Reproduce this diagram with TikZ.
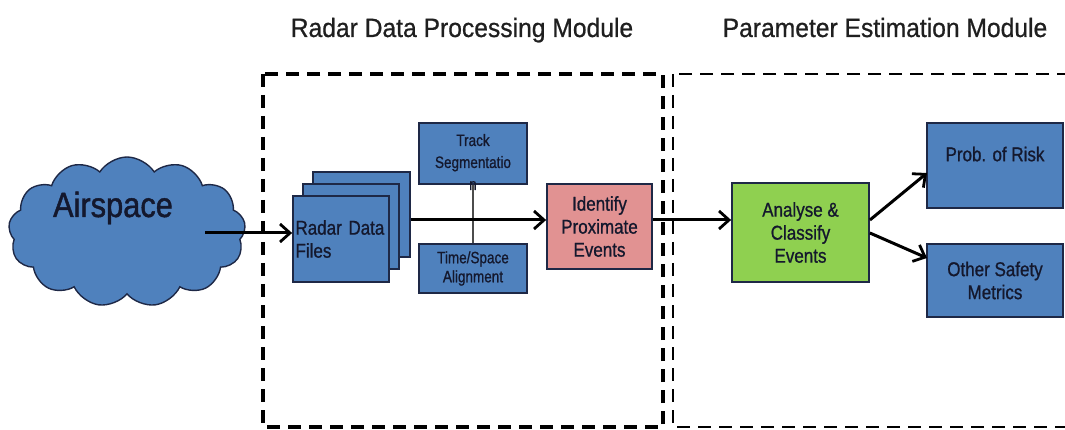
\documentclass[tikz,border=0pt]{standalone}
\usepackage{fontspec}
\setmainfont{Liberation Sans}
\newfontfamily\midfont[FakeStretch=0.85,FakeBold=0.9]{Liberation Sans}
\newfontfamily\smallfont[FakeStretch=0.82,FakeBold=0.8]{Liberation Sans}
\newfontfamily\bigfont[FakeStretch=0.88,FakeBold=1.2]{Liberation Sans}
\newfontfamily\titlefont[FakeStretch=0.93,FakeBold=0.7]{Liberation Sans}
\usetikzlibrary{shapes.symbols,arrows.meta}
\definecolor{boxblue}{RGB}{79,129,189}
\definecolor{boxedge}{RGB}{30,40,70}
\definecolor{boxpink}{RGB}{225,146,146}
\definecolor{boxgreen}{RGB}{143,208,80}
\definecolor{txt}{RGB}{20,24,45}
\tikzset{
  bx/.style={draw=boxedge, line width=1.8pt, fill=boxblue, inner sep=0pt, text=txt, align=center},
  lbl/.style={text=txt, align=center, inner sep=0pt},
  mid/.style={font=\midfont\fontsize{20}{23}\selectfont},
  small/.style={font=\smallfont\fontsize{16.5}{19}\selectfont},
  arr/.style={line width=3pt, -{Straight Barb[length=10pt,width=18pt,line width=2.8pt]}},
  modbox/.style={line width=3.4pt, dash pattern=on 13pt off 8pt},
  title/.style={font=\titlefont\fontsize{26.5}{30}\selectfont, text=black!88, anchor=base, inner sep=0pt}
}
\begin{document}
\begin{tikzpicture}[x=1pt,y=-1pt]
\useasboundingbox (0,0) rectangle (1065,430);

% titles
\node[title] (t1) at (462,37) {Radar Data Processing Module};
\node[title] (t2) at (885,37) {Parameter Estimation Module};

% module boxes
\draw[modbox] (263,74) rectangle (663,427);
\draw[modbox, line width=2.8pt] (673,74) rectangle (1075,427);

% cloud
\node[cloud, cloud puffs=13, cloud puff arc=115, aspect=1.6, draw=boxedge, line width=1.4pt,
      fill=boxblue, minimum width=237pt, minimum height=150pt, inner sep=0pt] (cloud) at (127,232) {};
\node[lbl, font=\bigfont\fontsize{35}{40}\selectfont, anchor=base] (airtxt) at (113,217) {Airspace};
\coordinate (cloudout) at (205,233);

% radar data files stack
\node[bx, minimum width=97pt, minimum height=85pt] (rback) at (361.5,214.5) {};
\node[bx, minimum width=96pt, minimum height=85pt] (rmid) at (351,226.5) {};
\node[bx, mid, minimum width=96pt, minimum height=86pt, text width=91pt, align=left, inner xsep=2.5pt] (rfront) at (341,239) {Radar Data\\Files};

% track segmentation / time-space
\node[bx, minimum width=108pt, minimum height=61pt] (track) at (473,153.5) {};
\node[bx, small, minimum width=108pt, minimum height=49pt] (time) at (473,268.5) {Time/Space\\Alignment};
\draw[line width=1.3pt, draw=black!70] (track.south) -- (time.north);
\node[lbl, font=\smallfont\fontsize{16.5}{22}\selectfont] (tracktxt) at (473,162) {Track\\Segmentatio\\n};

% identify
\node[bx, mid, fill=boxpink, minimum width=105pt, minimum height=85pt] (ident) at (599.5,226.5) {Identify\\Proximate\\Events};

% analyse
\node[bx, mid, fill=boxgreen, minimum width=137pt, minimum height=99pt] (anal) at (800.5,232.5) {Analyse \&\\Classify\\Events};

% outputs
\node[bx, mid, minimum width=136pt, minimum height=85pt] (prob) at (995,165.5) {Prob. of Risk\\\mbox{}};
\node[bx, mid, minimum width=136pt, minimum height=73pt] (other) at (995,280.5) {Other Safety\\Metrics};

% connectors
\draw[arr] (cloudout) -- (rfront.west |- cloudout);
\draw[arr] (rback.east |- 0,220) -- (ident.west |- 0,220);
\draw[arr] (ident.east |- 0,220) -- (anal.west |- 0,220);
\draw[arr] (anal.east |- 0,220) -- (927,173);
\draw[arr] (anal.east |- 0,233) -- (927,258);
\end{tikzpicture}
\end{document}
